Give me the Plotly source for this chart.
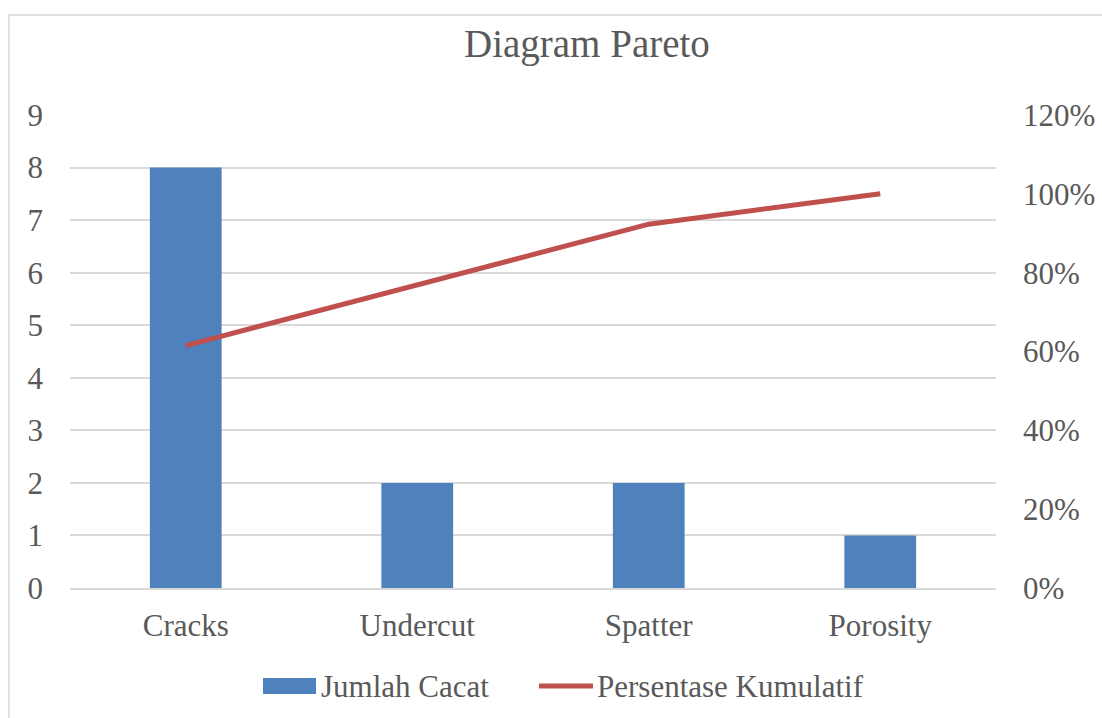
import plotly.graph_objects as go

# Defect categories and counts
categories = ["Cracks", "Undercut", "Spatter", "Porosity"]
jumlah_cacat = [8, 2, 2, 1]
# Cumulative share of defects
persentase_kumulatif = [0.615, 0.769, 0.923, 1.0]

left_ticks = list(range(0, 10))
right_ticks = [0, 0.2, 0.4, 0.6, 0.8, 1.0, 1.2]
right_tick_text = ["0%", "20%", "40%", "60%", "80%", "100%", "120%"]

BLUE = "#4F81BD"
RED = "#C0504D"
GRID = "#D9D9D9"
TEXT = "#595959"
FONT = "Liberation Serif, Times New Roman, serif"

W, H = 1102, 718
L, R, T, B = 70, 106, 115, 130
PW, PH = W - L - R, H - T - B


def px_x(p):
    return (p - L) / PW


def px_y(p):
    return (H - B - p) / PH


fig = go.Figure()
fig.add_trace(go.Bar(
    x=categories, y=jumlah_cacat, name="Jumlah Cacat",
    marker=dict(color=BLUE, line=dict(width=0)), width=0.31,
    showlegend=False,
))
fig.add_trace(go.Scatter(
    x=categories, y=persentase_kumulatif, name="Persentase Kumulatif",
    yaxis="y2", mode="lines", line=dict(color=RED, width=5),
    showlegend=False,
))

shapes = [
    # outer chart border
    dict(type="rect", xref="paper", yref="paper",
         x0=px_x(9), x1=px_x(1130), y0=px_y(15), y1=px_y(740),
         line=dict(color=GRID, width=1.5), fillcolor="rgba(0,0,0,0)", layer="below"),
    # legend swatches
    dict(type="rect", xref="paper", yref="paper",
         x0=px_x(263), x1=px_x(316), y0=px_y(678), y1=px_y(694),
         line=dict(width=0), fillcolor=BLUE),
    dict(type="line", xref="paper", yref="paper",
         x0=px_x(539), x1=px_x(593), y0=px_y(686), y1=px_y(686),
         line=dict(color=RED, width=5)),
]

annotations = [
    dict(text="Diagram Pareto", xref="paper", yref="paper",
         x=px_x(587), y=px_y(44), xanchor="center", yanchor="middle",
         showarrow=False, font=dict(family=FONT, size=39, color=TEXT)),
    dict(text="Jumlah Cacat", xref="paper", yref="paper",
         x=px_x(319), y=px_y(686), xanchor="left", yanchor="middle",
         showarrow=False, font=dict(family=FONT, size=31, color=TEXT)),
    dict(text="Persentase Kumulatif", xref="paper", yref="paper",
         x=px_x(595), y=px_y(686), xanchor="left", yanchor="middle",
         showarrow=False, font=dict(family=FONT, size=31, color=TEXT)),
]

fig.update_layout(
    width=W, height=H,
    margin=dict(l=L, r=R, t=T, b=B, autoexpand=False),
    paper_bgcolor="white", plot_bgcolor="white",
    font=dict(family=FONT, color=TEXT, size=31),
    bargap=0.69,
    xaxis=dict(
        type="category", showgrid=False, showline=True, linecolor=GRID, linewidth=1.5,
        ticks="", ticklabelstandoff=9, tickfont=dict(size=31, color=TEXT),
    ),
    yaxis=dict(
        range=[0, 9], tickvals=left_ticks, showgrid=True, gridcolor=GRID, gridwidth=1.5,
        zeroline=False, showline=False, ticks="", ticklabelstandoff=26,
        tickfont=dict(size=31, color=TEXT),
    ),
    yaxis2=dict(
        range=[0, 1.2], tickvals=right_ticks, ticktext=right_tick_text,
        overlaying="y", side="right", showgrid=False, zeroline=False, showline=False,
        ticks="", ticklabelstandoff=26, tickfont=dict(size=31, color=TEXT),
    ),
    shapes=shapes,
    annotations=annotations,
)

fig.write_html("out.html")
